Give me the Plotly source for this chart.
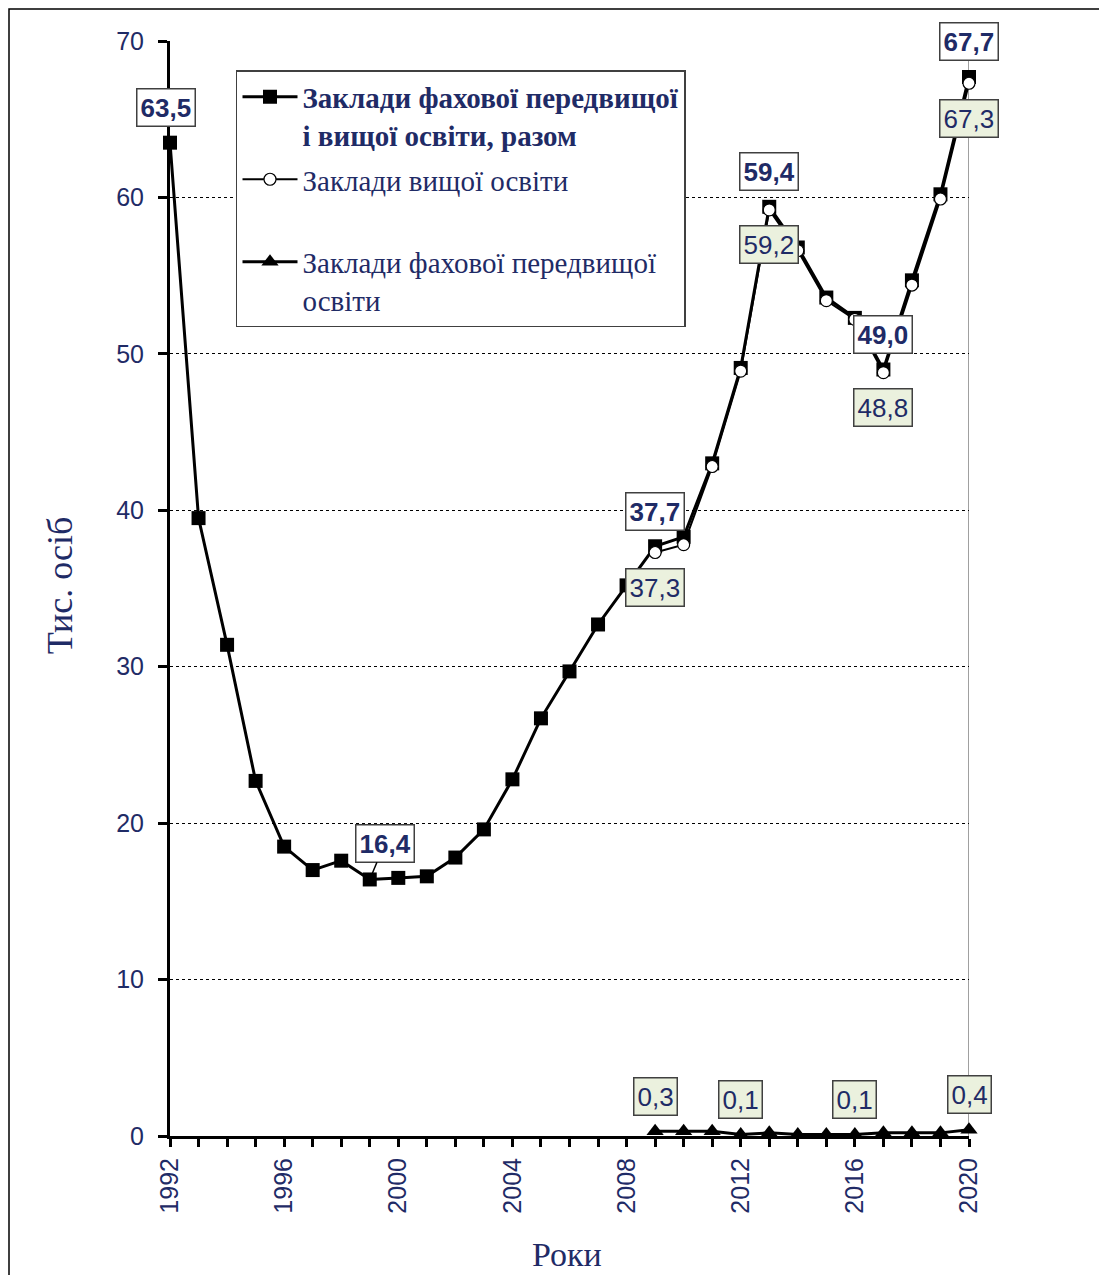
import plotly.graph_objects as go

NAVY = "#1F2B66"

# ---- data ----
years_total = list(range(1992, 2021))
total = [63.5, 39.5, 31.4, 22.7, 18.5, 17.0, 17.6, 16.4, 16.5, 16.6, 17.8, 19.6,
         22.8, 26.7, 29.7, 32.7, 35.2, 37.7, 38.3, 43.0, 49.1, 59.4, 56.8, 53.6,
         52.3, 49.0, 54.7, 60.2, 67.7]
years_sub = list(range(2009, 2021))
higher = [37.3, 37.8, 42.8, 48.9, 59.2, 56.6, 53.4, 52.2, 48.8, 54.4, 59.9, 67.3]
prehigher = [0.3, 0.3, 0.3, 0.1, 0.2, 0.1, 0.1, 0.1, 0.2, 0.2, 0.2, 0.4]

name_total = "<b>Заклади фахової передвищої<br>і вищої освіти, разом</b>"
name_higher = "Заклади вищої освіти<br> "
name_pre = "Заклади фахової передвищої<br>освіти"

x_tickvals = [1992, 1996, 2000, 2004, 2008, 2012, 2016, 2020]
y_tickvals = [0, 10, 20, 30, 40, 50, 60, 70]

labels_total = [(1992, "63,5"), (2009, "37,7"), (2013, "59,4"), (2017, "49,0"), (2020, "67,7")]
labels_higher = [(2009, "37,3"), (2013, "59,2"), (2017, "48,8"), (2020, "67,3")]
labels_pre = [(2009, "0,3"), (2012, "0,1"), (2016, "0,1"), (2020, "0,4")]

fig = go.Figure()
fig.add_trace(go.Scatter(
    x=years_total, y=total, name=name_total, mode="lines+markers",
    line=dict(color="black", width=3),
    marker=dict(symbol="square", size=14, color="black"),
    cliponaxis=False, legendgroup="a"))
fig.add_trace(go.Scatter(
    x=years_sub, y=higher, name=name_higher, mode="lines+markers",
    line=dict(color="black", width=2),
    marker=dict(symbol="circle", size=12, color="white", line=dict(color="black", width=1.2)),
    cliponaxis=False, legendgroup="b"))
fig.add_trace(go.Scatter(
    x=years_sub, y=prehigher, name=name_pre, mode="lines+markers",
    line=dict(color="black", width=3),
    marker=dict(symbol="triangle-up", size=15, color="black"),
    cliponaxis=False, legendgroup="c"))

LABEL_FONT = dict(family="Liberation Sans, Arial", size=26, color=NAVY)

ann = []
def box(x, y, text, bold, up, xshift=0):
    ann.append(dict(
        x=x, y=y, xref="x", yref="y", text=("<b>%s</b>" % text) if bold else text,
        showarrow=False, xshift=xshift, yshift=35 if up else -35,
        font=LABEL_FONT,
        bgcolor="white" if bold else "#EBF1DE", bordercolor="#404040",
        borderwidth=1.5, borderpad=3))

for yr, t in labels_total:
    idx = years_total.index(yr)
    box(yr, total[idx], t, True, True, xshift=(-4 if yr == 1992 else 0))
for yr, t in labels_higher:
    idx = years_sub.index(yr)
    box(yr, higher[idx], t, False, False)
for yr, t in labels_pre:
    idx = years_sub.index(yr)
    box(yr, prehigher[idx], t, False, True)

# 16,4 with leader line
idx = years_total.index(1999)
ann.append(dict(
    x=1999, y=total[idx], xref="x", yref="y", text="<b>16,4</b>",
    showarrow=True, arrowhead=0, arrowwidth=1.5, arrowcolor="black",
    ax=15, ay=-36, standoff=0,
    font=LABEL_FONT,
    bgcolor="white", bordercolor="#404040", borderwidth=1.5, borderpad=3))

# axis titles
ann.append(dict(x=-0.1377, y=0.503, xref="paper", yref="paper", text="Тис. осіб",
                textangle=-90, showarrow=False, xanchor="center", yanchor="middle",
                font=dict(family="Liberation Serif, Times New Roman", size=36, color=NAVY)))
ann.append(dict(x=0.497, y=-0.108, xref="paper", yref="paper", text="Роки",
                showarrow=False, xanchor="center", yanchor="middle",
                font=dict(family="Liberation Serif, Times New Roman", size=34, color=NAVY)))

shapes = [
    dict(type="rect", xref="paper", yref="paper", x0=-0.2015, x1=1.1677, y0=-0.2, y1=1.0292,
         line=dict(color="black", width=1.5), fillcolor="rgba(0,0,0,0)", layer="below"),
    dict(type="line", xref="x", yref="y", x0=2020, x1=2020, y0=0, y1=70,
         line=dict(color="#808080", width=1.5), layer="below"),
]

fig.update_layout(
    width=1107, height=1275,
    margin=dict(l=162, r=146, t=33, b=147),
    paper_bgcolor="white", plot_bgcolor="white",
    showlegend=True,
    legend=dict(x=0.0826, y=0.9735, xanchor="left", yanchor="top",
                bgcolor="white", bordercolor="#404040", borderwidth=1.5,
                font=dict(family="Liberation Serif, Times New Roman", size=29, color=NAVY),
                valign="top", itemwidth=55, tracegroupgap=4, traceorder="grouped"),
    annotations=ann, shapes=shapes,
    xaxis=dict(range=[1992, 2020], tickvals=x_tickvals, ticktext=[str(v) for v in x_tickvals],
               tickangle=-90, ticks="outside", ticklen=8, tickwidth=2.5, tickcolor="black",
               showline=True, linecolor="black", linewidth=3, showgrid=False, zeroline=False,
               tickfont=dict(family="Liberation Sans, Arial", size=25, color=NAVY),
               minor=dict(dtick=1, tick0=1992, ticks="outside", ticklen=8, tickwidth=2.5,
                          tickcolor="black", showgrid=False),
               ticklabelstandoff=1),
    yaxis=dict(range=[0, 70], tickvals=y_tickvals, ticks="outside", ticklen=9, tickwidth=2.5,
               tickcolor="black", showline=True, linecolor="black", linewidth=3,
               showgrid=True, gridcolor="black", gridwidth=1, griddash="dot", zeroline=False,
               tickfont=dict(family="Liberation Sans, Arial", size=25, color=NAVY),
               ticklabelstandoff=9),
)

fig.write_html("out.html")
